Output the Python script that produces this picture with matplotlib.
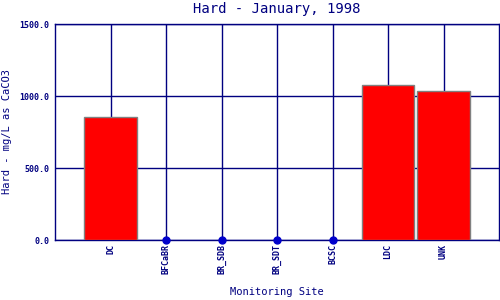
import matplotlib
matplotlib.use("Agg")
import matplotlib.pyplot as plt
import numpy as np

sites = ["DC", "BFCaBR", "BR_SDB", "BR_SDT", "BCSC", "LDC", "UNK"]
hardness = [856, 0, 0, 0, 0, 1074, 1035]

navy = "#000080"
x = np.arange(len(sites))
vals = np.array(hardness)

fig = plt.figure(figsize=(5, 3), dpi=100)
ax = fig.add_axes([0.11, 0.2, 0.888, 0.72])

ax.grid(True, color=navy, linewidth=1)
ax.set_axisbelow(True)

has = vals > 0
ax.bar(x[has], vals[has], width=0.94, color="red", edgecolor="gray", linewidth=1, zorder=3)
ax.plot(x[~has], vals[~has], "o", color="#0000cc", markersize=5, zorder=4, clip_on=False)

ax.set_xlim(-1, 7)
ax.set_ylim(0, 1500)
ax.set_yticks([0, 500, 1000, 1500])
ax.set_yticklabels(["%.1f" % v for v in [0, 500, 1000, 1500]],
                   fontfamily="DejaVu Sans Mono", fontsize=6, fontweight="bold", color=navy)
ax.set_xticks(x)
ax.set_xticklabels(sites, rotation=90, fontfamily="DejaVu Sans Mono", fontsize=6,
                   fontweight="bold", color=navy)
ax.tick_params(length=0, pad=4)
ax.tick_params(axis="x", pad=3)
for s in ax.spines.values():
    s.set_color(navy)
    s.set_linewidth(1)

ax.set_title("Hard - January, 1998", fontfamily="DejaVu Sans Mono", fontsize=10, color=navy, pad=8)
ax.set_xlabel("Monitoring Site", fontfamily="DejaVu Sans Mono", fontsize=7.5, color=navy, labelpad=9)
ax.set_ylabel("Hard - mg/L as CaCO3", fontfamily="DejaVu Sans Mono", fontsize=7.5, color=navy, labelpad=5)

fig.savefig("out.png", dpi=100)
